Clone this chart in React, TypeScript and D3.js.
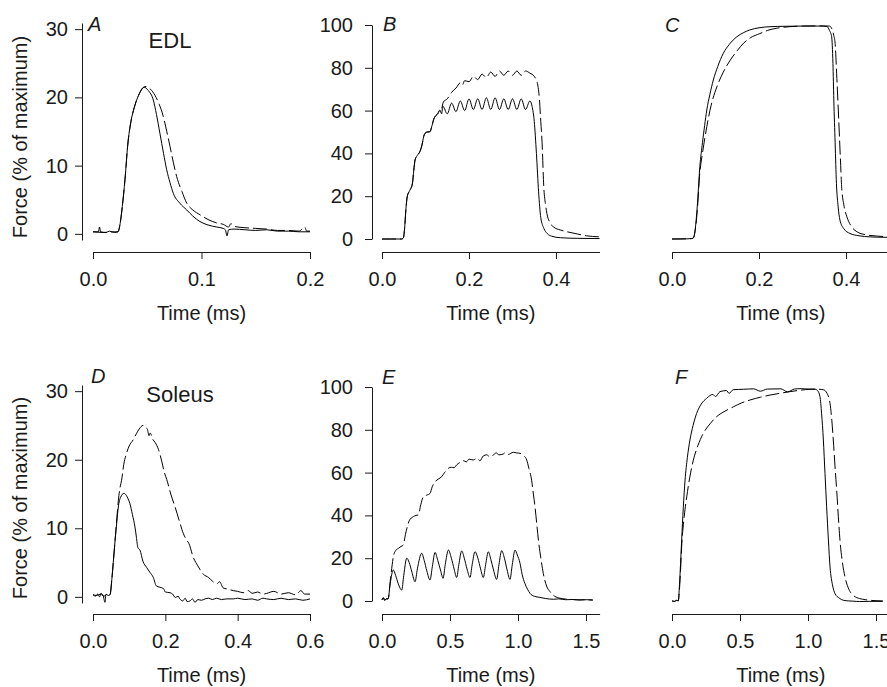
import React, { useEffect, useRef } from "react";
import * as d3 from "d3";

const width = 887;
const height = 687;
const FONT = '"Liberation Sans", Arial, Helvetica, sans-serif';
const INK = "#1a1a1a";

// A: EDL twitch  (t, % of max)
const edlTwitchSolid = [
  [0, 0.3], [0.005, 0.3], [0.006, 1.0], [0.007, 0.3], [0.012, 0.2], [0.015, 0.4], [0.02, 0.2],
  [0.023, 0.3], [0.025, 1.5], [0.027, 4], [0.0295, 8], [0.032, 13], [0.035, 16.5], [0.038, 18.5],
  [0.042, 20.3], [0.047, 21.5], [0.051, 21], [0.0556, 19.6], [0.0585, 17.5], [0.0617, 14.7],
  [0.065, 11.8], [0.0679, 9.4], [0.071, 7.5], [0.074, 5.95], [0.08, 4.5], [0.0864, 3.5],
  [0.092, 2.6], [0.0986, 1.8], [0.106, 1.3], [0.114, 1.0], [0.12, 0.8], [0.122, 0.6],
  [0.1235, -0.3], [0.125, 0.6], [0.13, 0.7], [0.14, 0.6], [0.15, 0.5], [0.16, 0.6], [0.17, 0.4],
  [0.18, 0.4], [0.19, 0.3], [0.2, 0.3],
];
const edlTwitchDashed = [
  [0, 0.3], [0.01, 0.2], [0.02, 0.3], [0.023, 0.3], [0.025, 1.5], [0.027, 4], [0.0295, 8],
  [0.032, 13], [0.035, 16.5], [0.038, 18.5], [0.042, 20.3], [0.0488, 21.6], [0.053, 21.2],
  [0.0571, 20.3], [0.061, 19], [0.0648, 17.2], [0.068, 15], [0.071, 12.8], [0.074, 10.5],
  [0.0771, 8.4], [0.082, 6.2], [0.0864, 4.5], [0.092, 3.5], [0.0986, 2.8], [0.106, 2.1],
  [0.114, 1.6], [0.12, 1.4], [0.125, 1.0], [0.127, 1.5], [0.13, 1.1], [0.14, 0.9], [0.15, 0.8],
  [0.16, 0.7], [0.17, 0.5], [0.18, 0.5], [0.19, 0.4], [0.195, 1.0], [0.197, 0.4], [0.2, 0.4],
];

// B: EDL unfused tetanus
const edlTetanusSolid = [
  [0, 0], [0.02, 0], [0.045, 0], [0.049, 0.5], [0.052, 5], [0.055, 14], [0.058, 19.8],
  [0.062, 22], [0.066, 23.5], [0.07, 26], [0.073, 32], [0.076, 36.9], [0.081, 39], [0.087, 40.8],
  [0.092, 44], [0.096, 48], [0.099, 49.4], [0.104, 50], [0.11, 50.1], [0.115, 53], [0.119, 56],
  [0.122, 57.2], [0.128, 58.5], [0.133, 60.3], [0.137, 58.5], [0.14, 62], [0.15, 58.5],
  [0.16, 63.5], [0.17, 59.5], [0.18, 64.5], [0.19, 60], [0.2, 65.5], [0.21, 60.5], [0.22, 65.5],
  [0.23, 60.5], [0.24, 66], [0.25, 60.5], [0.26, 66], [0.27, 60.5], [0.28, 65.5], [0.29, 60.5],
  [0.3, 65.5], [0.31, 60.5], [0.32, 65.5], [0.33, 60.5], [0.34, 64.5], [0.345, 62], [0.35, 55],
  [0.355, 40], [0.36, 22], [0.365, 10], [0.372, 5], [0.38, 2.5], [0.39, 1.3], [0.41, 0.6],
  [0.45, 0.3], [0.5, 0.2],
];
const edlTetanusDashed = [
  [0, 0], [0.02, 0], [0.045, 0], [0.049, 0.5], [0.052, 5], [0.055, 14], [0.058, 19.8],
  [0.062, 22], [0.066, 23.5], [0.07, 26], [0.073, 32], [0.076, 36.9], [0.081, 39], [0.087, 40.8],
  [0.092, 44], [0.096, 48], [0.099, 49.4], [0.104, 50], [0.11, 50.1], [0.115, 53], [0.119, 56],
  [0.122, 57.2], [0.128, 58.5], [0.133, 60.3], [0.137, 61], [0.141, 64], [0.15, 65.5],
  [0.16, 68.5], [0.165, 69.6], [0.17, 70.5], [0.18, 73], [0.185, 72], [0.19, 74], [0.2, 73.5],
  [0.21, 76], [0.22, 74.5], [0.23, 77], [0.24, 75.5], [0.25, 78], [0.26, 76], [0.27, 78.5],
  [0.28, 76.5], [0.29, 78.5], [0.3, 76.5], [0.31, 78.5], [0.32, 76.5], [0.33, 78.5], [0.34, 77.5],
  [0.35, 76], [0.357, 73], [0.362, 65], [0.365, 55], [0.368, 45], [0.372, 24], [0.376, 16],
  [0.379, 12], [0.385, 8], [0.394, 5.7], [0.41, 4.2], [0.425, 3.4], [0.45, 2.3], [0.47, 1.5],
  [0.5, 1],
];

// C: EDL fused tetanus
const edlFusedSolid = [
  [0, 0], [0.02, 0], [0.045, 0.2], [0.049, 0.5], [0.053, 4], [0.058, 15], [0.064, 33.8],
  [0.07, 45], [0.075, 53], [0.08, 60.3], [0.087, 67.5], [0.095, 74.3], [0.105, 80.5],
  [0.118, 86.8], [0.132, 91], [0.149, 94.5], [0.165, 96.5], [0.179, 97.7], [0.2, 98.7],
  [0.225, 99.2], [0.26, 99.4], [0.3, 99.5], [0.34, 99.5], [0.356, 99.3], [0.362, 97.5],
  [0.367, 94.5], [0.37, 82], [0.372, 65], [0.375, 45], [0.378, 26], [0.382, 15], [0.386, 8.9],
  [0.395, 4.8], [0.409, 2.6], [0.43, 1.5], [0.455, 1], [0.49, 0.8], [0.5, 0.8],
];
const edlFusedDashed = [
  [0, 0], [0.045, 0.2], [0.049, 0.5], [0.053, 3.5], [0.058, 13], [0.064, 31], [0.07, 40],
  [0.08, 52.5], [0.09, 62.5], [0.103, 71], [0.118, 78], [0.134, 83.6], [0.15, 88], [0.164, 91.4],
  [0.18, 94], [0.202, 96], [0.22, 97.5], [0.241, 98.5], [0.27, 99.2], [0.3, 99.5], [0.34, 99.6],
  [0.362, 99.5], [0.368, 98], [0.372, 95], [0.375, 91.4], [0.379, 75], [0.383, 57], [0.387, 38],
  [0.39, 24.4], [0.395, 16], [0.402, 10.4], [0.412, 6], [0.425, 3.4], [0.445, 2], [0.47, 1.4],
  [0.5, 1],
];

// D: soleus twitch
const soleusTwitchSolid = [
  [0, 0.3], [0.008, 0.1], [0.012, 0.4], [0.018, 0], [0.022, 0.5], [0.028, 0.2], [0.033, -0.8],
  [0.036, 0.4], [0.042, 0.2], [0.047, 0.3], [0.052, 2.5], [0.056, 5], [0.061, 8.2], [0.066, 11],
  [0.07, 13.1], [0.076, 14.5], [0.0857, 15.1], [0.092, 14.8], [0.097, 14.3], [0.102, 13.6],
  [0.109, 12], [0.116, 10.2], [0.12, 8.7], [0.124, 7.2], [0.13, 6.8], [0.138, 5.2], [0.148, 4.3],
  [0.157, 3.6], [0.167, 2.8], [0.175, 1.6], [0.185, 1.4], [0.195, 1.2], [0.2, 0.7], [0.213, 0.6],
  [0.22, 0.4], [0.228, -0.1], [0.235, 0.1], [0.24, -0.3], [0.248, -0.6], [0.255, -0.2],
  [0.26, -0.7], [0.268, -0.6], [0.275, -0.3], [0.282, -0.8], [0.29, -0.4], [0.3, -0.5],
  [0.31, -0.3], [0.32, -0.2], [0.33, -0.4], [0.342, -0.2], [0.355, -0.4], [0.37, -0.3],
  [0.388, -0.3], [0.4, -0.2], [0.42, -0.4], [0.44, -0.3], [0.455, -0.5], [0.47, -0.2],
  [0.48, -0.3], [0.5, -0.4], [0.52, -0.2], [0.54, -0.4], [0.56, -0.3], [0.58, -0.5], [0.6, -0.3],
];
const soleusTwitchDashed = [
  [0, 0.3], [0.01, 0.2], [0.02, 0.4], [0.03, 0.1], [0.04, 0.3], [0.047, 0.3], [0.052, 2.5],
  [0.056, 5], [0.061, 8.2], [0.066, 11.5], [0.07, 14], [0.075, 16], [0.079, 17], [0.085, 19.3],
  [0.093, 21], [0.1, 22], [0.111, 22.9], [0.12, 23.8], [0.128, 24.5], [0.138, 25], [0.145, 24.7],
  [0.15, 24.5], [0.155, 23.5], [0.158, 23.9], [0.165, 23], [0.172, 22.5], [0.181, 21.5],
  [0.19, 19.8], [0.197, 18.2], [0.204, 17.1], [0.215, 15], [0.227, 13.1], [0.238, 11.2],
  [0.25, 9.2], [0.26, 8.2], [0.265, 7.8], [0.277, 5.8], [0.29, 4.5], [0.305, 3.3], [0.32, 2.8],
  [0.33, 2.3], [0.342, 1.9], [0.35, 2.2], [0.36, 1.3], [0.375, 1.1], [0.388, 0.9], [0.4, 0.8],
  [0.415, 0.6], [0.43, 0.9], [0.44, 0.5], [0.455, 0.7], [0.47, 0.4], [0.48, 0.5], [0.5, 0.8],
  [0.52, 0.4], [0.54, 0.6], [0.56, 0.3], [0.575, 0.9], [0.585, 0.4], [0.6, 0.4],
];

// E: soleus unfused tetanus
const soleusTetanusSolid = [
  [0, 0.5], [0.01, 1.5], [0.02, 0.3], [0.03, 1], [0.04, 0.8], [0.046, 1.2], [0.06, 8],
  [0.083, 14.5], [0.1, 12], [0.12, 8], [0.145, 5.1], [0.16, 12], [0.182, 20], [0.2, 18],
  [0.22, 13.5], [0.243, 9], [0.26, 15], [0.292, 22.3], [0.31, 19], [0.33, 14], [0.353, 9.8],
  [0.37, 16], [0.39, 22.7], [0.41, 19], [0.43, 14.5], [0.449, 10.6], [0.465, 17], [0.488, 23.8],
  [0.51, 20], [0.53, 15], [0.549, 11], [0.565, 17], [0.586, 23.4], [0.605, 20], [0.625, 15],
  [0.647, 11], [0.663, 17], [0.684, 23], [0.705, 20], [0.725, 15], [0.745, 11], [0.762, 17],
  [0.782, 23], [0.8, 19.5], [0.82, 14.5], [0.843, 10.1], [0.86, 17], [0.88, 23.5], [0.9, 20],
  [0.92, 14.5], [0.941, 10.1], [0.958, 17], [0.978, 23.8], [0.995, 21.5], [1.015, 17.6],
  [1.03, 12.5], [1.05, 8.3], [1.07, 5.5], [1.088, 3.6], [1.12, 2.2], [1.16, 1.7], [1.2, 1.2],
  [1.26, 0.8], [1.3, 1], [1.35, 0.6], [1.4, 0.7], [1.45, 0.5], [1.5, 0.6], [1.55, 0.5],
];
const soleusTetanusDashed = [
  [0, 0.5], [0.01, 1.5], [0.02, 0.3], [0.03, 1], [0.046, 1.2], [0.06, 9], [0.075, 17],
  [0.083, 20.7], [0.1, 23.5], [0.12, 24.6], [0.14, 25.5], [0.157, 26.2], [0.172, 31],
  [0.186, 34.7], [0.2, 37.5], [0.23, 39.4], [0.25, 40], [0.267, 40.2], [0.285, 45], [0.304, 48.7],
  [0.33, 49.5], [0.353, 50.3], [0.37, 53.5], [0.39, 55.7], [0.415, 57], [0.439, 58.1], [0.46, 60],
  [0.488, 62], [0.51, 62.5], [0.53, 62.3], [0.549, 63.6], [0.575, 64.8], [0.598, 65.6],
  [0.62, 65], [0.64, 66.3], [0.671, 65.9], [0.7, 66.8], [0.72, 65.5], [0.745, 67.8], [0.77, 68.3],
  [0.79, 67.5], [0.818, 68.2], [0.84, 69.2], [0.86, 68.3], [0.892, 68.7], [0.91, 69.5],
  [0.93, 68.5], [0.965, 69.5], [0.99, 69.2], [1.015, 69], [1.04, 68], [1.064, 65.9], [1.08, 62],
  [1.1, 56.5], [1.113, 50], [1.125, 44], [1.138, 36], [1.15, 28.5], [1.168, 20], [1.186, 12.9],
  [1.21, 7], [1.235, 4.4], [1.27, 2.2], [1.309, 1.3], [1.35, 0.9], [1.4, 0.7], [1.456, 0.5],
  [1.5, 0.6], [1.55, 0.4],
];

// F: soleus fused tetanus
const soleusFusedSolid = [
  [0, 0.5], [0.02, 0.3], [0.035, 0.8], [0.046, 0.5], [0.055, 8], [0.063, 18], [0.071, 28.9],
  [0.083, 44], [0.096, 57], [0.113, 67.5], [0.132, 75.7], [0.155, 82.5], [0.181, 88.1],
  [0.215, 92.5], [0.255, 95.2], [0.3, 97], [0.32, 96], [0.353, 98.3], [0.4, 98.8], [0.42, 97.5],
  [0.45, 99.2], [0.524, 99.4], [0.6, 99.6], [0.65, 98.5], [0.7, 99.5], [0.8, 99.6], [0.85, 98.2],
  [0.9, 99.5], [0.95, 99.7], [1.0, 99.5], [1.05, 99.5], [1.07, 98.8], [1.088, 96], [1.1, 88],
  [1.113, 75.7], [1.125, 60], [1.137, 44.5], [1.15, 29], [1.162, 16.4], [1.18, 8], [1.199, 3.9],
  [1.23, 1.8], [1.26, 0.8], [1.3, 0.5], [1.33, 0.4], [1.38, 0.2], [1.45, 0.3], [1.55, 0.3],
];
const soleusFusedDashed = [
  [0, 0.5], [0.02, 0.3], [0.035, 0.8], [0.046, 0.5], [0.055, 6], [0.063, 15], [0.071, 25.8],
  [0.09, 40], [0.108, 49], [0.13, 58], [0.157, 66.3], [0.19, 73], [0.23, 78.8], [0.28, 83.3],
  [0.328, 86.6], [0.39, 89.2], [0.451, 91.2], [0.51, 93], [0.574, 94.4], [0.65, 95.7],
  [0.721, 96.7], [0.8, 97.6], [0.868, 98.3], [0.95, 99], [1.015, 99.4], [1.08, 99.4],
  [1.113, 99.2], [1.14, 97.5], [1.162, 92.8], [1.175, 85], [1.186, 75.7], [1.2, 62],
  [1.211, 52.3], [1.223, 40], [1.235, 28.9], [1.252, 19], [1.272, 11.7], [1.3, 6], [1.333, 3.1],
  [1.38, 1.6], [1.42, 1.1], [1.456, 0.8], [1.5, 0.6], [1.55, 0.5],
];

const twitchTicks = [0, 10, 20, 30];
const tetanusTicks = [0, 20, 40, 60, 80, 100];

const panels = [
  { letter: "A", title: "EDL", solid: edlTwitchSolid, dashed: edlTwitchDashed,
    xDomain: [0, 0.2], xTicks: [0, 0.1, 0.2], left: 93, right: 310, xAxisY: 252,
    yDomain: [-0.9, 30.9], yRange: [240, 23], yTicks: twitchTicks, yAxisX: 82, yPad: 7,
    letterPos: [88, 31], titlePos: [170, 48] },
  { letter: "B", solid: edlTetanusSolid, dashed: edlTetanusDashed,
    xDomain: [0, 0.5], xTicks: [0, 0.2, 0.4], left: 382, right: 599.5, xAxisY: 252,
    yDomain: [0, 100], yRange: [239, 25], yTicks: tetanusTicks, yAxisX: 372, yPad: 12,
    letterPos: [383, 31] },
  { letter: "C", solid: edlFusedSolid, dashed: edlFusedDashed,
    xDomain: [0, 0.5], xTicks: [0, 0.2, 0.4], left: 672, right: 889.5, xAxisY: 252,
    yDomain: [0, 100], yRange: [239, 25], letterPos: [665, 32] },
  { letter: "D", title: "Soleus", solid: soleusTwitchSolid, dashed: soleusTwitchDashed,
    xDomain: [0, 0.6], xTicks: [0, 0.2, 0.4, 0.6], left: 93, right: 310, xAxisY: 614,
    yDomain: [-0.9, 30.9], yRange: [603, 385], yTicks: twitchTicks, yAxisX: 82, yPad: 7,
    letterPos: [91, 383], titlePos: [180, 402] },
  { letter: "E", solid: soleusTetanusSolid, dashed: soleusTetanusDashed,
    xDomain: [0, 1.6], xTicks: [0, 0.5, 1.0, 1.5], left: 382, right: 599.6, xAxisY: 614,
    yDomain: [0, 100], yRange: [601, 387], yTicks: tetanusTicks, yAxisX: 372, yPad: 12,
    letterPos: [382, 384] },
  { letter: "F", solid: soleusFusedSolid, dashed: soleusFusedDashed,
    xDomain: [0, 1.6], xTicks: [0, 0.5, 1.0, 1.5], left: 672, right: 889.6, xAxisY: 614,
    yDomain: [0, 100], yRange: [602, 388], letterPos: [675, 384] },
];

const yTitles = [137, 498];

export default function App() {
  const ref = useRef<SVGSVGElement>(null);

  useEffect(() => {
    const svg = d3.select(ref.current);
    svg.selectAll("*").remove();

    panels.forEach((p) => {
      const x = d3.scaleLinear().domain(p.xDomain).range([p.left, p.right]);
      const y = d3.scaleLinear().domain(p.yDomain).range(p.yRange);
      const g = svg.append("g");

      // x axis
      g.append("g")
        .attr("transform", `translate(0,${p.xAxisY})`)
        .call(
          d3.axisBottom(x).tickValues(p.xTicks).tickSize(7).tickSizeOuter(0)
            .tickPadding(13).tickFormat(d3.format(".1f"))
        )
        .attr("font-size", 20)
        .attr("font-family", FONT)
        .attr("color", INK);

      // y axis (first two columns only)
      if (p.yTicks) {
        g.append("g")
          .attr("transform", `translate(${p.yAxisX},0)`)
          .call(d3.axisLeft(y).tickValues(p.yTicks).tickSize(7).tickSizeOuter(0).tickPadding(p.yPad))
          .attr("font-size", 20)
          .attr("font-family", FONT)
          .attr("color", INK);
      }

      g.append("text")
        .attr("x", (p.left + p.right) / 2)
        .attr("y", p.xAxisY + 68)
        .attr("text-anchor", "middle")
        .attr("font-size", 20)
        .attr("font-family", FONT)
        .attr("fill", INK)
        .text("Time (ms)");

      const line = d3.line<number[]>()
        .x((d) => x(d[0]))
        .y((d) => y(d[1]))
        .curve(d3.curveMonotoneX);

      g.append("path")
        .attr("d", line(p.dashed))
        .attr("fill", "none")
        .attr("stroke", "#000")
        .attr("stroke-width", 1)
        .attr("stroke-dasharray", "14,4");

      g.append("path")
        .attr("d", line(p.solid))
        .attr("fill", "none")
        .attr("stroke", "#000")
        .attr("stroke-width", 1);

      g.append("text")
        .attr("x", p.letterPos[0])
        .attr("y", p.letterPos[1])
        .attr("font-size", 20)
        .attr("font-style", "italic")
        .attr("font-family", FONT)
        .attr("fill", INK)
        .text(p.letter);

      if (p.title) {
        g.append("text")
          .attr("x", p.titlePos[0])
          .attr("y", p.titlePos[1])
          .attr("text-anchor", "middle")
          .attr("font-size", 22)
          .attr("font-family", FONT)
          .attr("fill", INK)
          .text(p.title);
      }
    });

    yTitles.forEach((cy) => {
      svg.append("text")
        .attr("transform", `translate(27,${cy}) rotate(-90)`)
        .attr("text-anchor", "middle")
        .attr("font-size", 20)
        .attr("font-family", FONT)
        .attr("fill", INK)
        .text("Force (% of maximum)");
    });
  }, []);

  return (
    <svg
      ref={ref}
      width={width}
      height={height}
      style={{ position: "absolute", left: 0, top: 0, display: "block", background: "#fff" }}
    />
  );
}
